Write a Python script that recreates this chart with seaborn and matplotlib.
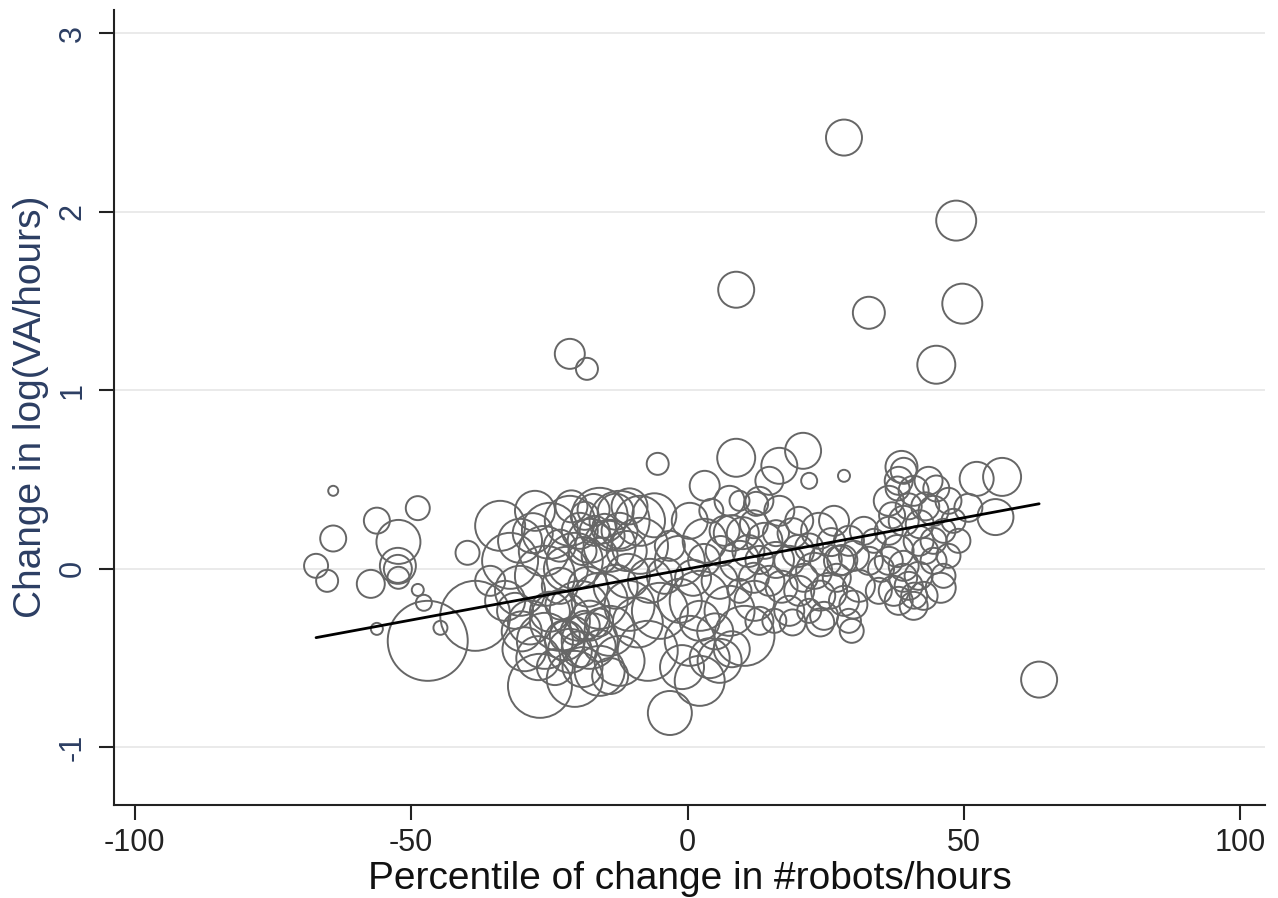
import pandas as pd
import matplotlib.pyplot as plt
import numpy as np
import seaborn as sns

# percentile of change in robots/hours (x), change in log(VA/hours) (y), weight (bubble size)
left_x = [-64.1, -48.8, -56.2, -64.1, -52.3, -67.2, -65.2, -57.3, -52.4, -52.4, -52.3,
          -48.8, -47.7, -56.2, -44.7, -47.0, -38.4, -39.8]
left_y = [0.437, 0.34, 0.27, 0.17, 0.151, 0.017, -0.067, -0.084, 0.017, 0.0, -0.05,
          -0.118, -0.19, -0.336, -0.33, -0.403, -0.263, 0.09]
left_w = [0.25, 1.44, 1.69, 1.69, 4.84, 1.44, 1.21, 1.96, 3.24, 1.96, 1.21,
          0.36, 0.64, 0.36, 0.49, 16.0, 12.25, 1.44]

outlier_x = [28.3, 48.6, 49.7, 8.8, 32.8, 45.0, -21.3, -18.2, 63.6,
             -5.4, 8.8, 20.9, 16.6, 3.1, 28.3, 22.0, 38.7, 52.3, 56.9, 55.7, 50.8,
             45.8, 29.7, 12.4, 7.6]
outlier_y = [2.415, 1.95, 1.485, 1.563, 1.434, 1.143, 1.204, 1.12, -0.62,
             0.588, 0.622, 0.661, 0.577, 0.465, 0.521, 0.493, 0.571, 0.504, 0.515, 0.29, 0.342,
             -0.106, -0.347, 0.364, 0.381]
outlier_w = [3.24, 4.0, 4.0, 3.24, 2.56, 3.61, 2.25, 1.21, 3.24,
             1.21, 3.61, 3.24, 3.24, 2.25, 0.36, 0.64, 2.56, 2.89, 3.61, 3.24, 1.96,
             2.25, 1.44, 1.44, 2.25]

clusterA_x = [-33.9, -32.1, -30.3, -33.0, -26.7, -20.4, -15.9, -25.8, -23.1, -17.7,
              -19.5, -14.1, -21.3, -15.9, -25.8, -20.4, -24.9, -21.3, -15.9, -12.3,
              -17.7, -14.1, -8.6, -8.6, -30.3, -27.6, -15.9, -10.8, -10.5, -6.8,
              -5.0, -7.2, -3.2, -12.3, -22.2, -18.6, -23.1, -16.8, -15.0, -18.6,
              -20.4, -15.9, -35.7, -31.2, -12.3, -14.1, -19.5, -23.1, -22.2, -19.5,
              -17.7, -24.9, -28.5, -29.5, -10.5, -6.0,
              -28.0, -26.0, -22.0, -18.0, -13.0, -11.0, -9.0, -27.0, -24.0, -19.0,
              -14.0, -30.0, -21.0, -17.0, -13.0, -23.0, -16.0, -19.0]
clusterA_y = [0.241, 0.045, -0.123, -0.179, -0.655, -0.616, -0.571, -0.403, -0.291, -0.403,
              -0.235, -0.347, -0.459, -0.179, -0.039, 0.045, 0.213, 0.269, 0.297, 0.269,
              0.157, 0.129, 0.269, 0.129, 0.157, 0.325, 0.073, -0.039, -0.207, -0.067,
              -0.235, -0.459, -0.807, -0.515, -0.375, -0.319, -0.095, 0.213, 0.241, 0.297,
              -0.347, -0.431, -0.067, -0.235, 0.213, 0.185, 0.213, 0.13, -0.4, -0.45,
              -0.29, -0.24, -0.3, -0.45, 0.35, 0.3,
              0.2, 0.1, 0.0, -0.1, -0.1, 0.1, -0.3, -0.5, -0.55, -0.55,
              -0.6, -0.35, 0.35, 0.33, 0.32, -0.2, -0.3, 0.1]
clusterA_w = [6.25, 7.84, 6.25, 4.0, 10.24, 7.84, 6.25, 7.84, 9.0, 7.84,
              9.0, 6.25, 4.84, 7.84, 9.0, 7.84, 7.84, 6.25, 7.84, 9.0,
              4.84, 6.76, 6.25, 7.84, 4.84, 4.0, 3.24, 4.84, 6.25, 4.84,
              7.84, 9.0, 4.84, 6.25, 2.25, 2.25, 3.24, 2.25, 1.44, 1.96,
              1.96, 2.56, 2.25, 3.24, 3.24, 2.25, 3.24, 2.56, 4.0, 3.24,
              4.0, 4.0, 4.84, 4.84, 3.24, 4.84,
              4.0, 6.25, 4.84, 4.0, 4.84, 4.0, 6.25, 4.84, 3.24, 4.0,
              3.24, 4.0, 2.56, 2.56, 3.24, 2.25, 1.96, 1.96]

clusterB_x = [-1.4, 2.2, 0.4, 2.2, 5.8, 10.3, 7.6, 12.1, 5.8, 3.1,
              0.4, 6.7, 9.4, 13.9, 14.8, 18.4, 20.2, 22.9, 25.6, 27.4,
              29.2, 23.8, 26.5, 20.2, 16.6, 13.0, 18.4, 22.0, 24.7, 28.3,
              31.0, 30.1, 31.9, 29.2, 15.7, 13.0, 9.4, 2.2, -1.4, -4.1,
              -3.2, 4.3, 9.4, 14.8, 11.0, 16.0, 20.0, 25.0, 27.0, 22.0,
              8.0, 12.0, 5.0, -1.0,
              3.0, 6.0, 10.0, 13.0, 17.0, 19.0, 21.0, 24.0, 26.0, 28.0,
              24.0, 19.0, 8.0, 4.0, 12.0, 16.0, 30.0, 1.0]
clusterB_y = [0.045, -0.179, -0.403, -0.627, -0.515, -0.375, -0.235, -0.179, -0.067, 0.157,
              0.269, 0.213, 0.045, 0.157, -0.067, 0.045, -0.123, -0.011, -0.123, 0.045,
              0.157, 0.213, 0.269, 0.269, 0.325, 0.381, -0.235, -0.235, -0.263, -0.179,
              -0.095, 0.073, 0.213, -0.291, -0.291, -0.291, -0.123, -0.291, -0.179, -0.039,
              0.129, 0.325, 0.381, 0.493, 0.1, 0.05, 0.1, 0.05, -0.05, 0.12,
              0.2, -0.05, -0.35, -0.55,
              0.05, 0.1, 0.2, 0.05, -0.1, 0.2, -0.05, -0.15, 0.15, 0.05,
              -0.3, -0.3, -0.45, -0.5, 0.25, 0.2, -0.2, -0.05]
clusterB_w = [6.25, 9.0, 6.25, 6.25, 4.84, 9.0, 6.25, 4.0, 3.24, 4.84,
              3.24, 2.25, 4.0, 3.24, 2.25, 2.25, 2.25, 3.24, 3.24, 2.25,
              2.25, 3.24, 2.25, 1.96, 2.25, 1.96, 2.25, 1.44, 1.96, 2.25,
              2.56, 2.25, 1.96, 1.44, 1.44, 1.96, 1.44, 4.0, 4.84, 3.24,
              2.25, 1.44, 1.0, 1.96, 2.56, 3.24, 2.56, 2.56, 1.96, 1.96,
              3.24, 2.25, 3.24, 4.84,
              2.56, 2.25, 2.56, 1.96, 2.56, 2.25, 1.96, 2.25, 1.96, 2.25,
              1.96, 1.69, 3.24, 4.0, 1.96, 1.69, 1.96, 3.24]

clusterC_x = [36.4, 38.2, 39.1, 40.9, 43.6, 44.5, 47.2, 36.4, 39.1, 41.8,
              44.5, 46.3, 36.4, 39.1, 41.8, 44.5, 47.2, 37.3, 40.0, 42.7,
              38.2, 40.9, 32.8, 33.7, 34.6, 48.1, 49.0, 46.3, 43.0, 38.0, 42.0,
              37.0, 40.0, 45.0, 39.0, 43.0, 35.0, 41.0, 38.0]
clusterC_y = [0.381, 0.493, 0.549, 0.437, 0.493, 0.325, 0.381, 0.213, 0.269, 0.157,
              0.157, 0.213, 0.045, 0.017, -0.039, 0.045, 0.073, -0.123, -0.095, -0.151,
              -0.179, -0.207, 0.045, 0.157, -0.123, 0.269, 0.157, -0.039, 0.35, 0.1, 0.25,
              0.3, 0.35, 0.45, -0.05, 0.1, 0.0, -0.15, 0.45]
clusterC_w = [2.25, 1.96, 1.69, 2.25, 1.96, 2.25, 1.69, 1.96, 2.25, 2.25,
              1.69, 1.44, 1.96, 2.25, 1.96, 1.69, 1.44, 2.25, 1.96, 1.96,
              1.96, 1.96, 1.96, 1.44, 1.69, 1.44, 1.44, 1.44, 1.96, 2.56, 1.96,
              1.69, 1.69, 1.69, 1.96, 1.69, 1.69, 1.69, 1.44]

# fitted line
fit_intercept = 0.0
fit_slope = 0.00573

x = left_x + outlier_x + clusterA_x + clusterB_x + clusterC_x
y = left_y + outlier_y + clusterA_y + clusterB_y + clusterC_y
w = left_w + outlier_w + clusterA_w + clusterB_w + clusterC_w
dataset = pd.DataFrame({'pct': x, 'dva': y, 'w': w})

fit = pd.DataFrame({'pct': [dataset['pct'].min(), dataset['pct'].max()]})
fit['dva'] = fit_intercept + fit_slope * fit['pct']

sns.set_style("ticks")
plt.rcParams['font.family'] = ['Liberation Sans', 'DejaVu Sans']
plt.rcParams['axes.unicode_minus'] = False

fig = plt.figure(figsize=(12.78, 8.98), dpi=100)
ax = fig.add_axes([0.089, 0.104, 0.901, 0.885])

for yy in [-1, 0, 1, 2, 3]:
    ax.axhline(yy, color='#e8e8e8', lw=1.3, zorder=0)

sns.scatterplot(data=dataset, x='pct', y='dva', size='w', sizes=(0, 3317),
                size_norm=(0, 16), facecolors='none', edgecolor='#666666',
                linewidth=1.4, legend=False, ax=ax)
sns.lineplot(data=fit, x='pct', y='dva', color='black', lw=2.0, ax=ax)

ax.set_xlim(-103.8, 104.5)
ax.set_ylim(-1.32, 3.13)
ax.set_xticks([-100, -50, 0, 50, 100])
ax.set_yticks([-1, 0, 1, 2, 3])
ax.tick_params(axis='x', length=11, width=1.5, labelsize=22, pad=6, colors='#222222')
ax.tick_params(axis='y', length=11, width=1.5, labelsize=22, pad=8, colors='#222222',
               labelcolor='#2c3e63')
for lab in ax.get_yticklabels():
    lab.set_rotation(90)
    lab.set_va('center')
sns.despine(ax=ax)
ax.spines['left'].set_linewidth(1.5)
ax.spines['bottom'].set_linewidth(1.5)
ax.spines['left'].set_color('#222222')
ax.spines['bottom'].set_color('#222222')
ax.set_xlabel("Percentile of change in #robots/hours", fontsize=28, color='#111111', labelpad=2)
ax.set_ylabel("Change in log(VA/hours)", fontsize=28, color='#2c3e63', labelpad=6)

plt.savefig("out.png", dpi=100)
